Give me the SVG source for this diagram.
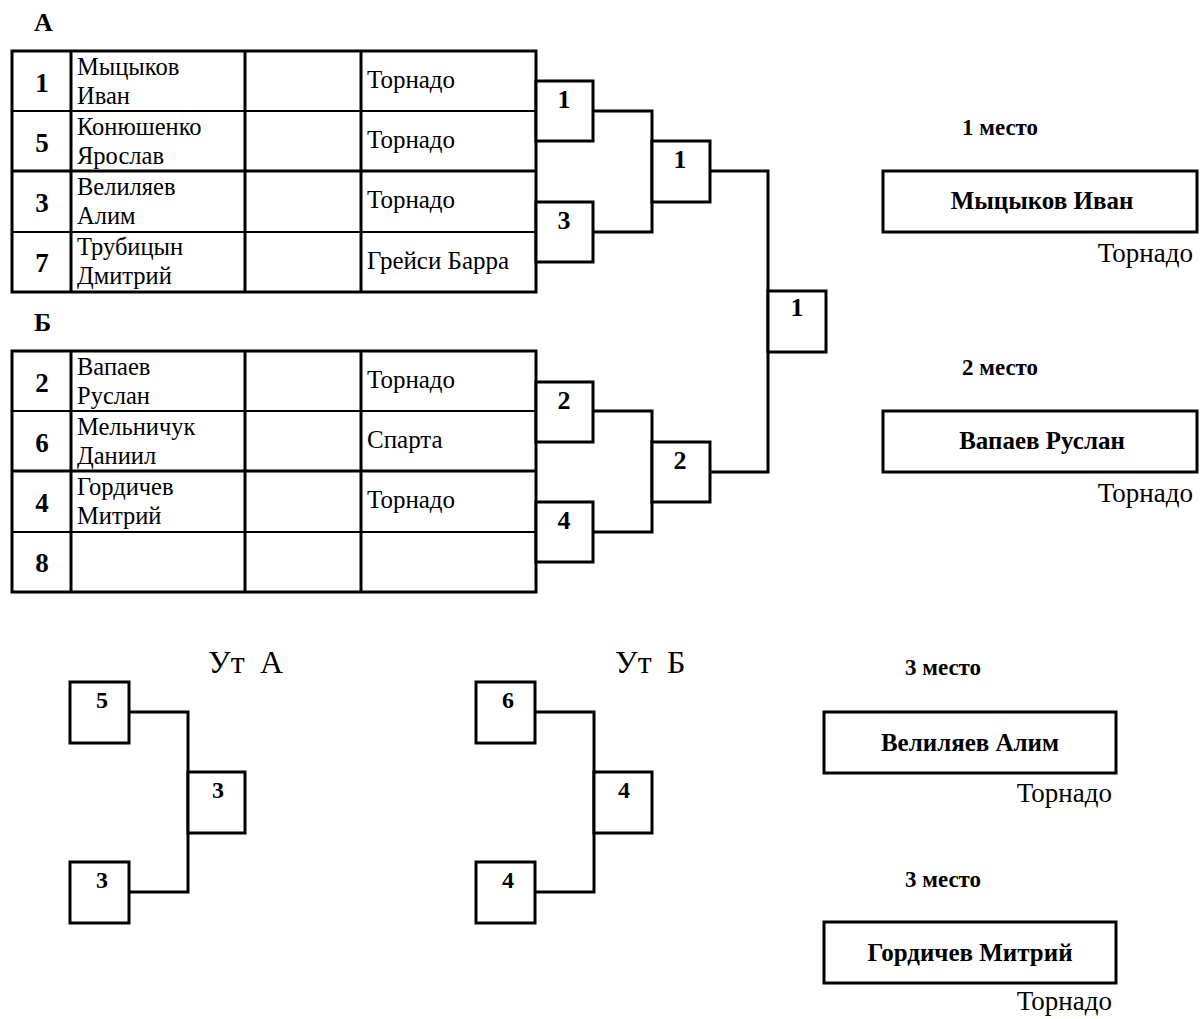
<svg xmlns="http://www.w3.org/2000/svg" width="1200" height="1019" viewBox="0 0 1200 1019">
<style>
.b{fill:#fff;stroke:#000;stroke-width:3}
.ln{fill:none;stroke:#000;stroke-width:3}
.thin{fill:none;stroke:#000;stroke-width:2}
.t{font-family:"Liberation Serif",serif;fill:#000}
.nm{font-size:24.5px}
.tm{font-size:25px}
.num{font-size:27px;font-weight:bold;text-anchor:middle}
.bn{font-size:26px;font-weight:bold;text-anchor:middle}
.sn{font-size:24px;font-weight:bold;text-anchor:middle}
.pl{font-size:23px;font-weight:bold}
.win{font-size:25px;font-weight:bold;text-anchor:middle}
.club{font-size:27px;text-anchor:end}
.hd{font-size:26px;font-weight:bold}
.ut{font-size:32px}
</style>
<rect width="1200" height="1019" fill="#fff"/>
<text class="t hd" x="34" y="31">А</text>
<text class="t hd" x="34" y="331">Б</text>
<g id="tableA">
<rect class="b" x="12" y="51" width="524" height="241"/>
<line class="thin" x1="12" y1="111" x2="536" y2="111"/>
<line class="ln" x1="12" y1="171" x2="536" y2="171"/>
<line class="thin" x1="12" y1="232" x2="536" y2="232"/>
<line class="ln" x1="71" y1="51" x2="71" y2="292"/>
<line class="ln" x1="245" y1="51" x2="245" y2="292"/>
<line class="ln" x1="361" y1="51" x2="361" y2="292"/>
<text class="t num" x="42" y="92">1</text>
<text class="t num" x="42" y="152">5</text>
<text class="t num" x="42" y="212">3</text>
<text class="t num" x="42" y="272">7</text>
<text class="t nm" x="77" y="75">Мыцыков</text><text class="t nm" x="77" y="104">Иван</text>
<text class="t nm" x="77" y="135">Конюшенко</text><text class="t nm" x="77" y="164">Ярослав</text>
<text class="t nm" x="77" y="195">Велиляев</text><text class="t nm" x="77" y="224">Алим</text>
<text class="t nm" x="77" y="255">Трубицын</text><text class="t nm" x="77" y="284">Дмитрий</text>
<text class="t tm" x="367" y="88">Торнадо</text>
<text class="t tm" x="367" y="148">Торнадо</text>
<text class="t tm" x="367" y="208">Торнадо</text>
<text class="t tm" x="367" y="269">Грейси Барра</text>
</g>
<g id="tableB">
<rect class="b" x="12" y="351" width="524" height="241"/>
<line class="thin" x1="12" y1="411" x2="536" y2="411"/>
<line class="ln" x1="12" y1="471" x2="536" y2="471"/>
<line class="thin" x1="12" y1="532" x2="536" y2="532"/>
<line class="ln" x1="71" y1="351" x2="71" y2="592"/>
<line class="ln" x1="245" y1="351" x2="245" y2="592"/>
<line class="ln" x1="361" y1="351" x2="361" y2="592"/>
<text class="t num" x="42" y="392">2</text>
<text class="t num" x="42" y="452">6</text>
<text class="t num" x="42" y="512">4</text>
<text class="t num" x="42" y="572">8</text>
<text class="t nm" x="77" y="375">Вапаев</text><text class="t nm" x="77" y="404">Руслан</text>
<text class="t nm" x="77" y="435">Мельничук</text><text class="t nm" x="77" y="464">Даниил</text>
<text class="t nm" x="77" y="495">Гордичев</text><text class="t nm" x="77" y="524">Митрий</text>
<text class="t tm" x="367" y="388">Торнадо</text>
<text class="t tm" x="367" y="448">Спарта</text>
<text class="t tm" x="367" y="508">Торнадо</text>
</g>
<g id="connectors">
<path class="ln" d="M593,111 H652 V232 H593"/>
<path class="ln" d="M593,411 H652 V532 H593"/>
<path class="ln" d="M710,171 H768 V472 H710"/>
<path class="ln" d="M129,712 H188 V892 H129"/>
<path class="ln" d="M535,712 H594 V892 H535"/>
</g>
<g id="r1a"><rect class="b" x="536" y="81" width="57" height="60"/><text class="t bn" x="564" y="108">1</text></g>
<g id="r1b"><rect class="b" x="536" y="202" width="57" height="60"/><text class="t bn" x="564" y="229">3</text></g>
<g id="r1c"><rect class="b" x="536" y="382" width="57" height="60"/><text class="t bn" x="564" y="409">2</text></g>
<g id="r1d"><rect class="b" x="536" y="502" width="57" height="60"/><text class="t bn" x="564" y="529">4</text></g>
<g id="r2a"><rect class="b" x="652" y="141" width="58" height="61"/><text class="t bn" x="680" y="168">1</text></g>
<g id="r2b"><rect class="b" x="652" y="442" width="58" height="60"/><text class="t bn" x="680" y="469">2</text></g>
<g id="final"><rect class="b" x="768" y="291" width="58" height="61"/><text class="t bn" x="797" y="316">1</text></g>
<g id="place1">
<text class="t pl" x="962" y="135">1 место</text>
<rect class="b" x="883" y="171" width="314" height="61"/>
<text class="t win" x="1042" y="209">Мыцыков Иван</text>
<text class="t club" x="1193" y="262">Торнадо</text>
</g>
<g id="place2">
<text class="t pl" x="962" y="375">2 место</text>
<rect class="b" x="883" y="411" width="314" height="61"/>
<text class="t win" x="1042" y="449">Вапаев Руслан</text>
<text class="t club" x="1193" y="502">Торнадо</text>
</g>
<text class="t ut" x="208" y="673">Ут</text><text class="t ut" x="260" y="673">А</text>
<text class="t ut" x="615" y="673">Ут</text><text class="t ut" x="667" y="673">Б</text>
<g id="utA5"><rect class="b" x="70" y="682" width="59" height="61"/><text class="t sn" x="102" y="708">5</text></g>
<g id="utA3b"><rect class="b" x="70" y="862" width="59" height="61"/><text class="t sn" x="102" y="888">3</text></g>
<g id="utA3"><rect class="b" x="188" y="772" width="57" height="61"/><text class="t sn" x="218" y="798">3</text></g>
<g id="utB6"><rect class="b" x="476" y="682" width="59" height="61"/><text class="t sn" x="508" y="708">6</text></g>
<g id="utB4b"><rect class="b" x="476" y="862" width="59" height="61"/><text class="t sn" x="508" y="888">4</text></g>
<g id="utB4"><rect class="b" x="594" y="772" width="58" height="61"/><text class="t sn" x="624" y="798">4</text></g>
<g id="place3a">
<text class="t pl" x="905" y="675">3 место</text>
<rect class="b" x="824" y="712" width="292" height="61"/>
<text class="t win" x="970" y="751">Велиляев Алим</text>
<text class="t club" x="1112" y="802">Торнадо</text>
</g>
<g id="place3b">
<text class="t pl" x="905" y="887">3 место</text>
<rect class="b" x="824" y="922" width="292" height="61"/>
<text class="t win" x="970" y="961">Гордичев Митрий</text>
<text class="t club" x="1112" y="1010">Торнадо</text>
</g>
</svg>
